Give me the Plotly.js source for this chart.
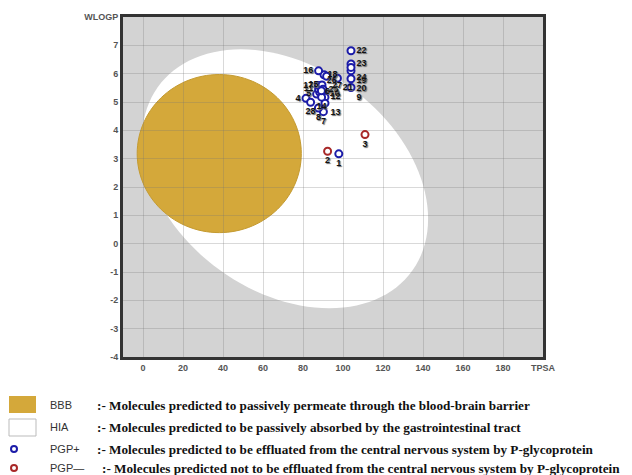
<!DOCTYPE html>
<html>
<head>
<meta charset="utf-8">
<script src="https://cdn.plot.ly/plotly-3.0.1.min.js"></script>
<style>html,body{margin:0;padding:0;background:#fff;}#chart{width:632px;height:475px;}</style>
</head>
<body>
<div id="chart"></div>
<script>
// ---- data ----
const ids   = [1, 2, 3, 4, 5, 6, 7, 8, 9, 10, 11, 12, 13, 14, 15, 16, 17, 18, 19, 20, 21, 22, 23, 24, 25, 26, 27, 28];
const tpsa  = [97.9, 92.3, 111.0, 81.5, 86.8, 88.3, 90.2, 87.7, 104.0, 90.5, 87.8, 91.0, 91.0, 89.3, 90.5, 87.8, 87.8, 89.5, 104.0, 104.0, 97.2, 104.0, 104.0, 104.0, 90.0, 89.2, 91.8, 83.8];
const wlogp = [3.17, 3.26, 3.85, 5.13, 5.28, 5.35, 4.66, 4.79, 5.51, 5.28, 5.46, 5.17, 4.96, 5.17, 5.96, 6.10, 5.58, 5.60, 6.10, 5.82, 5.84, 6.81, 6.34, 6.22, 5.45, 5.40, 5.91, 4.99];
const pgp   = ['+', '-', '-', '+', '+', '+', '+', '+', '+', '+', '+', '+', '+', '+', '+', '+', '+', '+', '+', '+', '+', '+', '+', '+', '+', '+', '+', '+'];
const labelPos = ['bottom center', 'bottom center', 'bottom center', 'middle left', 'middle left', 'middle right', 'bottom center', 'bottom center', 'bottom right', 'middle right', 'middle left', 'middle right', 'bottom right', 'bottom center', 'bottom left', 'middle left', 'middle left', 'top right', 'bottom right', 'bottom right', 'bottom right', 'middle right', 'middle right', 'bottom right', 'middle right', 'top right', 'bottom right', 'bottom center'];

// ellipse regions: [centre TPSA, centre WLOGP, half-width TPSA, half-height WLOGP, phase (deg)]
const hiaEllipse = [71.05, 2.29, 71.5, 4.57, 72];
const bbbEllipse = [38.12, 3.18, 41.03, 2.79, 90];

const xTickVals = [0, 20, 40, 60, 80, 100, 120, 140, 160, 180, 200];
const xTickText = ['0', '20', '40', '60', '80', '100', '120', '140', '160', '180', 'TPSA'];
const yTickVals = [-4, -3, -2, -1, 0, 1, 2, 3, 4, 5, 6, 7, 8];
const yTickText = ['-4', '-3', '-2', '-1', '0', '1', '2', '3', '4', '5', '6', '7', 'WLOGP'];

const legendKeys  = ['BBB', 'HIA', 'PGP+', 'PGP\u2014'];
const legendTexts = [
  ':- Molecules predicted to passively permeate through the blood-brain barrier',
  ':- Molecules predicted to be passively absorbed by the gastrointestinal tract',
  ':- Molecules predicted to be effluated from the central nervous system by P-glycoprotein',
  ':- Molecules predicted not to be effluated from the central nervous system by P-glycoprotein'
];

// ---- helpers ----
function ellipsePath(p) {
  const [cx, cy, rx, ry, ph] = p;
  const d = ph * Math.PI / 180;
  let s = '';
  for (let k = 0; k <= 120; k++) {
    const t = k / 120 * 2 * Math.PI;
    const x = cx + rx * Math.cos(t);
    const y = cy - ry * Math.cos(t + d);
    s += (k === 0 ? 'M' : 'L') + x.toFixed(3) + ',' + y.toFixed(3);
  }
  return s + 'Z';
}
// plot area in pixels: x 123..543, y 17..357
const px = v => (v - 123) / 420;
const py = v => (357 - v) / 340;

function pick(arr, sign) { return arr.filter((_, i) => pgp[i] === sign); }

const textFont = {family: 'Liberation Sans, Arial, sans-serif', size: 9, color: '#111', weight: 'bold', shadow: '1px 1px 1px #666'};

const traces = [
  {
    type: 'scatter', mode: 'markers+text', name: 'PGP+',
    x: pick(tpsa, '+'), y: pick(wlogp, '+'), text: pick(ids, '+').map(String),
    textposition: pick(labelPos, '+'), textfont: textFont, cliponaxis: false,
    marker: {symbol: 'circle', size: 7, color: '#ffffff', line: {color: '#1c1ca8', width: 2}},
    hoverinfo: 'x+y+text'
  },
  {
    type: 'scatter', mode: 'markers+text', name: 'PGP-',
    x: pick(tpsa, '-'), y: pick(wlogp, '-'), text: pick(ids, '-').map(String),
    textposition: pick(labelPos, '-'), textfont: textFont, cliponaxis: false,
    marker: {symbol: 'circle', size: 7, color: '#ffffff', line: {color: '#a82828', width: 2}},
    hoverinfo: 'x+y+text'
  }
];

const shapes = [
  {type: 'path', xref: 'x', yref: 'y', layer: 'below', path: ellipsePath(hiaEllipse), fillcolor: '#ffffff', line: {width: 0}},
  {type: 'path', xref: 'x', yref: 'y', layer: 'below', path: ellipsePath(bbbEllipse), fillcolor: '#d4a83a', line: {width: 1, color: '#c49a30'}},
  // legend swatches
  {type: 'rect', xref: 'paper', yref: 'paper', x0: px(9), x1: px(36), y0: py(396), y1: py(413), fillcolor: '#d4a83a', line: {width: 0}},
  {type: 'rect', xref: 'paper', yref: 'paper', x0: px(9), x1: px(36), y0: py(419), y1: py(436), fillcolor: '#ffffff', line: {width: 1, color: '#bbbbbb'}},
  {type: 'circle', xref: 'paper', yref: 'paper', x0: px(11), x1: px(17), y0: py(446), y1: py(452), fillcolor: '#ffffff', line: {width: 2, color: '#1c1ca8'}},
  {type: 'circle', xref: 'paper', yref: 'paper', x0: px(11), x1: px(17), y0: py(465), y1: py(471), fillcolor: '#ffffff', line: {width: 2, color: '#a82828'}}
];

const rowY = [405, 427, 449, 468];
const descX = [95, 95, 95, 100];
const annotations = [];
legendKeys.forEach((k, i) => {
  annotations.push({xref: 'paper', yref: 'paper', x: px(48), y: py(rowY[i]), xanchor: 'left', yanchor: 'middle', showarrow: false,
    text: k, font: {family: 'Liberation Sans, Arial, sans-serif', size: 11, color: '#333'}});
  annotations.push({xref: 'paper', yref: 'paper', x: px(descX[i]), y: py(rowY[i]), xanchor: 'left', yanchor: 'middle', showarrow: false,
    text: legendTexts[i], font: {family: 'Liberation Serif, Times New Roman, serif', size: 13.2, color: '#111', weight: 'bold'}});
});

const axisFont = {family: 'Liberation Sans, Arial, sans-serif', size: 9, color: '#555', weight: 'bold'};

const layout = {
  width: 632, height: 475,
  margin: {l: 123, r: 89, t: 17, b: 118},
  paper_bgcolor: '#ffffff', plot_bgcolor: '#d3d3d3',
  showlegend: false,
  xaxis: {range: [-10, 200], tickvals: xTickVals, ticktext: xTickText, tickfont: axisFont,
    showgrid: true, gridcolor: 'rgba(120,120,120,0.28)', gridwidth: 1, zeroline: false,
    showline: true, mirror: true, linecolor: '#333', linewidth: 3, ticks: '', fixedrange: true},
  yaxis: {range: [-4, 8], tickvals: yTickVals, ticktext: yTickText, tickfont: axisFont,
    showgrid: true, gridcolor: 'rgba(120,120,120,0.28)', gridwidth: 1, zeroline: false,
    showline: true, mirror: true, linecolor: '#333', linewidth: 3, ticks: '', fixedrange: true},
  shapes: shapes,
  annotations: annotations
};

Plotly.newPlot('chart', traces, layout, {displayModeBar: false, staticPlot: true});
</script>
</body>
</html>
